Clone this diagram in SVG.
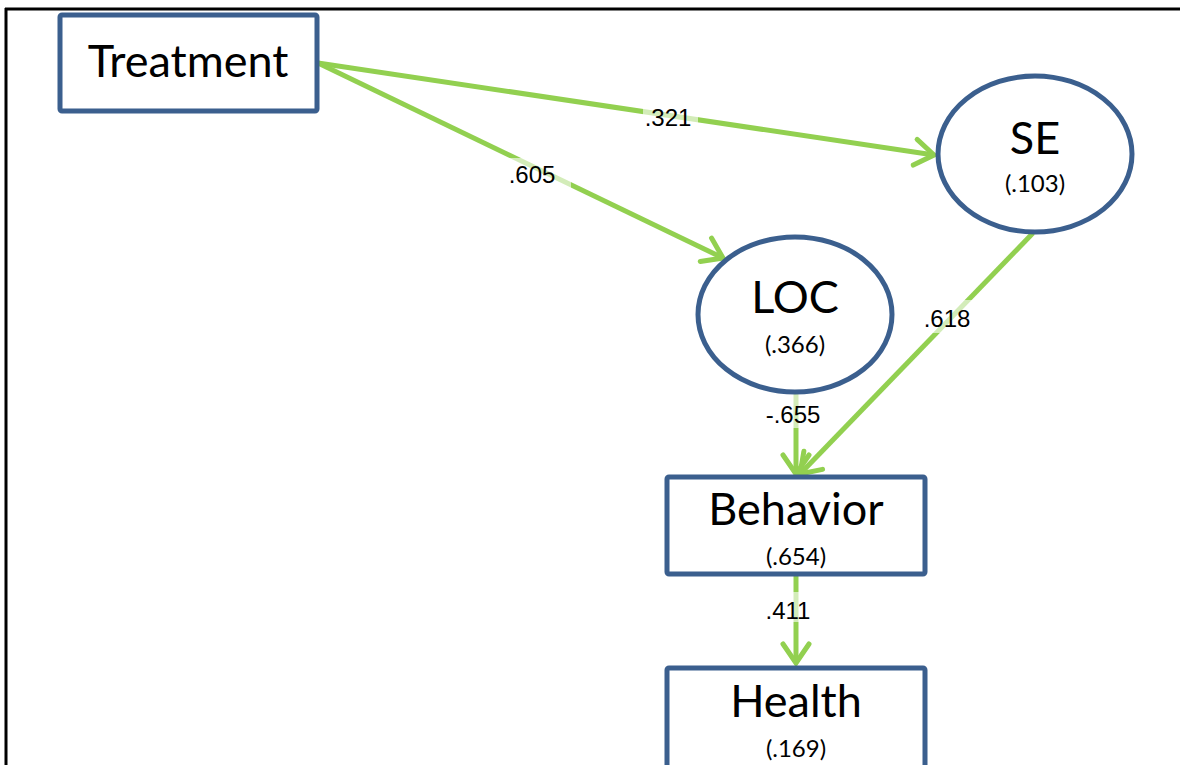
<svg xmlns="http://www.w3.org/2000/svg" width="1180" height="765" viewBox="0 0 1180 765">
  <style>
    .box { fill: #ffffff; stroke: #3B5F8E; stroke-width: 5; }
    .name { font-family: Lato, "Open Sans", sans-serif; font-size: 45px; fill: #000; text-anchor: middle; }
    .var { font-family: Lato, "Open Sans", sans-serif; font-size: 24px; fill: #000; text-anchor: middle; }
    .edge { stroke: #92D050; stroke-width: 5; fill: none; marker-end: url(#chev); }
    .lblbg { fill: #ffffff; fill-opacity: 0.6; }
    .lbl { font-family: "Liberation Sans", Arial, sans-serif; font-size: 24px; fill: #000; text-anchor: middle; }
  </style>
  <defs>
    <marker id="chev" markerUnits="userSpaceOnUse" markerWidth="40" markerHeight="40" refX="0" refY="0" orient="auto" overflow="visible">
      <path d="M-19,-13 L0,0 L-19,13" fill="none" stroke="#92D050" stroke-width="5" stroke-linecap="round" stroke-linejoin="miter"/>
    </marker>
  </defs>

  <rect width="1180" height="765" fill="#ffffff"/>
  <!-- page frame -->
  <g id="frame" stroke="#000" stroke-width="3">
    <line x1="5" y1="9" x2="1180" y2="9"/>
    <line x1="6" y1="8" x2="6" y2="765"/>
  </g>

  <!-- paths with coefficients -->
  <g id="connectors">
    <path class="edge" d="M318,63 L934,155"/>
    <rect class="lblbg" x="643" y="104" width="55" height="26"/>
    <text class="lbl" x="668" y="126">.321</text>

    <path class="edge" d="M318,63 L723,258"/>
    <rect class="lblbg" x="507" y="158" width="64" height="32"/>
    <text class="lbl" x="532" y="183">.605</text>

    <path class="edge" d="M1033,233 L800,474"/>
    <rect class="lblbg" x="921" y="300" width="52" height="33"/>
    <text class="lbl" x="947" y="327">.618</text>

    <path class="edge" d="M796,393 L796,474"/>
    <rect class="lblbg" x="764" y="394" width="58" height="34"/>
    <text class="lbl" x="793" y="423">-.655</text>

    <path class="edge" d="M796,576 L796,663"/>
    <rect class="lblbg" x="764" y="592" width="48" height="30"/>
    <text class="lbl" x="788" y="619">.411</text>
  </g>

  <g id="treatment">
    <rect class="box" x="60" y="15" width="257" height="96" rx="2"/>
    <text class="name" x="188" y="77">Treatment</text>
  </g>

  <g id="se">
    <ellipse class="box" cx="1035" cy="154" rx="97" ry="78"/>
    <text class="name" x="1035" y="154">SE</text>
    <text class="var" x="1035" y="192">(.103)</text>
  </g>

  <g id="loc">
    <ellipse class="box" cx="795" cy="314.5" rx="97" ry="77.5"/>
    <text class="name" x="795" y="313">LOC</text>
    <text class="var" x="795" y="353">(.366)</text>
  </g>

  <g id="behavior">
    <rect class="box" x="667" y="477" width="258" height="97" rx="2"/>
    <text class="name" x="796" y="525">Behavior</text>
    <text class="var" x="796" y="565">(.654)</text>
  </g>

  <g id="health">
    <rect class="box" x="667" y="668" width="258" height="110" rx="2"/>
    <text class="name" x="796" y="717">Health</text>
    <text class="var" x="796" y="757">(.169)</text>
  </g>
</svg>
